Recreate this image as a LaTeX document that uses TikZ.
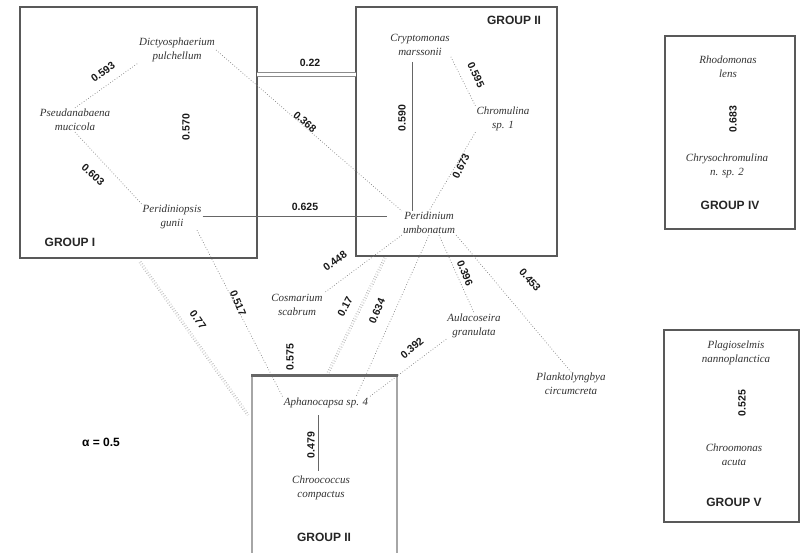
\documentclass[tikz,border=0pt]{standalone}
\usepackage{fontspec}
\setmainfont{Liberation Serif}
\setsansfont{Liberation Sans}
\usetikzlibrary{calc}
\newcommand\spfont{\fontsize{11}{14}\selectfont\itshape}
\newcommand\valfont{\sffamily\bfseries\fontsize{10.5}{12}\selectfont}
\newcommand\grpfont{\sffamily\bfseries\fontsize{12}{14}\selectfont}
\tikzset{
  sp/.style={font=\spfont, align=center, inner sep=1pt, text=black!80},
  val/.style={font=\valfont, inner sep=0.5pt, text=black!90},
  grp/.style={font=\grpfont, text=black!85},
  lnk/.style={draw=black!50, dotted, line width=0.7pt},
  solidlnk/.style={draw=black!60, line width=0.8pt},
  gbox/.style={draw=black!65, line width=1.5pt},
  ddot/.style={draw=black!40, double=white, double distance=1.8pt, dotted, line width=0.6pt},
  dsolid/.style={draw=black!45, double=white, double distance=2.5pt, line width=0.8pt}
}
\begin{document}
\begin{tikzpicture}[x=1pt,y=-1pt]
\useasboundingbox (0,0) rectangle (802,552);
\fill[white] (0,0) rectangle (802,552);

% group boxes
\draw[gbox] (20,7) rectangle (257,258);
\draw[gbox] (356,7) rectangle (557,256);
\draw[gbox] (665,36) rectangle (795,229);
\draw[gbox] (664,330) rectangle (799,522);
\draw[draw=black!35, line width=1.5pt] (252,553) -- (252,375) -- (397,375) -- (397,553);

% species
\node[sp] (A) at (177,50) {Dictyosphaerium\\pulchellum};
\node[sp] (B) at (75,120) {Pseudanabaena\\mucicola};
\node[sp] (C) at (172,217) {Peridiniopsis\\gunii};
\node[sp] (D) at (420,45) {Cryptomonas\\marssonii};
\node[sp] (E) at (503,119) {Chromulina\\sp. 1};
\node[sp] (F) at (429,223) {Peridinium\\umbonatum};
\node[sp] (G) at (297,305) {Cosmarium\\scabrum};
\node[sp] (H) at (474,326) {Aulacoseira\\granulata};
\node[sp] (I) at (571,384) {Planktolyngbya\\circumcreta};
\node[sp] (J) at (326,403) {Aphanocapsa sp. 4};
\node[sp] (K) at (321,488) {Chroococcus\\compactus};
\node[sp] (L) at (728,67) {Rhodomonas\\lens};
\node[sp] (M) at (727,166) {Chrysochromulina\\n. sp. 2};
\node[sp] (N) at (736,353) {Plagioselmis\\nannoplanctica};
\node[sp] (O) at (734,455) {Chroomonas\\acuta};

% group connectors
\coordinate (g12a) at (257,74.5);
\coordinate (g12b) at (356,74.5);
\coordinate (g13a) at (140,262);
\coordinate (g13b) at (248,415);
\coordinate (g23a) at (385,258);
\coordinate (g23b) at (327,375);
\draw[dsolid] (g12a) -- (g12b);
\draw[ddot] (g13a) -- (g13b);
\draw[ddot] (g23a) -- (g23b);

% species connectors
\draw[lnk] (B.north) -- (A.south west);
\draw[lnk] (B.south) -- (C.north west);
\draw[lnk] (A.east) -- (F.north west);
\draw[solidlnk] ([xshift=-8pt,yshift=-5pt]D.south) -- ([xshift=-17pt]F.north);
\draw[lnk] (D.south east) -- (E.north west);
\draw[lnk] (E.south west) -- (F.north);
\draw[solidlnk] ([yshift=1pt]C.east) -- ([xshift=-15pt,yshift=1pt]F.west |- C.east);
\draw[lnk] (F.south west) -- (G.north east);
\draw[lnk] ([xshift=10pt]F.south) -- (H.north);
\draw[lnk] (F.south east) -- (I.north);
\draw[lnk] (F.south) -- ([xshift=30pt]J.north);
\draw[lnk] ([xshift=25pt]C.south) -- (J.north west);
\draw[lnk] (H.south west) -- (J.north east);
\draw[solidlnk] ([xshift=-8pt,yshift=-6pt]J.south) -- ([xshift=-3pt,yshift=4pt]K.north);

% thick bar of group III
\draw[line width=3pt, black!60] (251,375) -- (398,375);

% values
\node[val, rotate=36] at (103,72) {0.593};
\node[val, rotate=-42] at (93,175) {0.603};
\node[val, rotate=90] at (186,127) {0.570};
\node[val] at (310,63) {0.22};
\node[val, rotate=-41] at (305,122) {0.368};
\node[val, rotate=90] at (402,118) {0.590};
\node[val, rotate=-65] at (476,75) {0.595};
\node[val, rotate=64] at (461,166) {0.673};
\node[val] at (305,207) {0.625};
\node[val, rotate=37] at (335,261) {0.448};
\node[val, rotate=-68] at (465,273) {0.396};
\node[val, rotate=-49] at (530,280) {0.453};
\node[val, rotate=67] at (377,311) {0.634};
\node[val, rotate=-67] at (238,303) {0.517};
\node[val, rotate=40] at (412,348) {0.392};
\node[val, rotate=90] at (311,445) {0.479};
\node[val, rotate=-55] at (198,320) {0.77};
\node[val, rotate=62] at (345,307) {0.17};
\node[val, rotate=90] at (290,357) {0.575};
\node[val, rotate=90] at (733,119) {0.683};
\node[val, rotate=90] at (742,403) {0.525};

% group labels
\node[grp] (t1) at (70,242) {GROUP I};
\node[grp] (t2) at (514,20) {GROUP II};
\node[grp] (t3) at (324,537) {GROUP II};
\node[grp] (t4) at (730,205) {GROUP IV};
\node[grp] (t5) at (734,502) {GROUP V};
\node[font=\sffamily\bfseries\fontsize{12}{14}\selectfont] (alpha) at (101,442) {α = 0.5};
\end{tikzpicture}
\end{document}
